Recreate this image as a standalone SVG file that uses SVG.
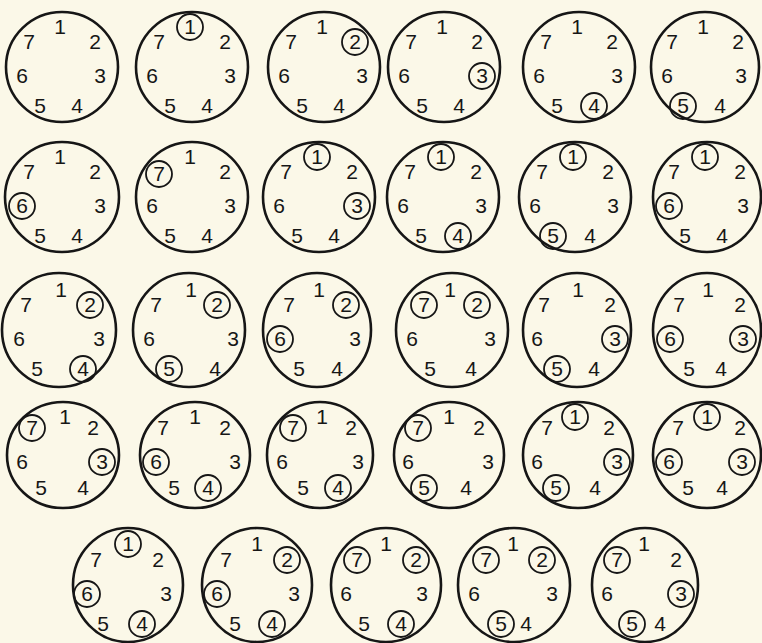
<svg xmlns="http://www.w3.org/2000/svg" width="762" height="643" viewBox="0 0 762 643">
<style>
.rim{fill:none;stroke:#161616;stroke-width:2.6}
.hl{fill:none;stroke:#161616;stroke-width:1.8}
text{font-family:"Liberation Sans","DejaVu Sans",sans-serif;font-size:21px;fill:#161616;text-anchor:middle}
</style>
<rect width="762" height="643" fill="#fbf8e8"/>
<g id="r1c1" transform="translate(62,67)"><ellipse class="rim" rx="56" ry="55"/><text x="-2" y="-33">1</text><text x="33" y="-18">2</text><text x="38" y="16">3</text><text x="15" y="46">4</text><text x="-22" y="46">5</text><text x="-40" y="16">6</text><text x="-33" y="-18">7</text></g>
<g id="r1c2" transform="translate(192,67)"><ellipse class="rim" rx="56" ry="55"/><text x="-2" y="-33">1</text><text x="33" y="-18">2</text><text x="38" y="16">3</text><text x="15" y="46">4</text><text x="-22" y="46">5</text><text x="-40" y="16">6</text><text x="-33" y="-18">7</text><circle class="hl" cx="-2" cy="-40" r="13"/></g>
<g id="r1c3" transform="translate(324,67)"><ellipse class="rim" rx="56" ry="55"/><text x="-2" y="-33">1</text><text x="31" y="-18">2</text><text x="38" y="16">3</text><text x="15" y="46">4</text><text x="-22" y="46">5</text><text x="-40" y="16">6</text><text x="-33" y="-18">7</text><circle class="hl" cx="31" cy="-25" r="13"/></g>
<g id="r1c4" transform="translate(444,67)"><ellipse class="rim" rx="56" ry="55"/><text x="-2" y="-33">1</text><text x="33" y="-18">2</text><text x="38" y="16">3</text><text x="15" y="46">4</text><text x="-22" y="46">5</text><text x="-40" y="16">6</text><text x="-33" y="-18">7</text><circle class="hl" cx="38" cy="9" r="13"/></g>
<g id="r1c5" transform="translate(579,67)"><ellipse class="rim" rx="56" ry="55"/><text x="-2" y="-33">1</text><text x="33" y="-18">2</text><text x="38" y="16">3</text><text x="15" y="46">4</text><text x="-22" y="46">5</text><text x="-40" y="16">6</text><text x="-33" y="-18">7</text><circle class="hl" cx="15" cy="39" r="13"/></g>
<g id="r1c6" transform="translate(705,67)"><ellipse class="rim" rx="54" ry="55"/><text x="-2" y="-33">1</text><text x="33" y="-18">2</text><text x="36" y="16">3</text><text x="15" y="46">4</text><text x="-22" y="46">5</text><text x="-38" y="16">6</text><text x="-33" y="-18">7</text><circle class="hl" cx="-22" cy="39" r="13"/></g>

<g id="r2c1" transform="translate(62,197)"><ellipse class="rim" rx="57" ry="55"/><text x="-2" y="-33">1</text><text x="33" y="-18">2</text><text x="38" y="16">3</text><text x="15" y="46">4</text><text x="-22" y="46">5</text><text x="-40" y="16">6</text><text x="-33" y="-18">7</text><circle class="hl" cx="-40" cy="9" r="13"/></g>
<g id="r2c2" transform="translate(192,197)"><ellipse class="rim" rx="56" ry="55"/><text x="-2" y="-33">1</text><text x="33" y="-18">2</text><text x="38" y="16">3</text><text x="15" y="46">4</text><text x="-22" y="46">5</text><text x="-40" y="16">6</text><text x="-33" y="-16">7</text><circle class="hl" cx="-33" cy="-23" r="13"/></g>
<g id="r2c3" transform="translate(319,197)"><ellipse class="rim" rx="56" ry="55"/><text x="-2" y="-33">1</text><text x="33" y="-18">2</text><text x="38" y="16">3</text><text x="15" y="46">4</text><text x="-22" y="46">5</text><text x="-40" y="16">6</text><text x="-33" y="-18">7</text><circle class="hl" cx="-2" cy="-40" r="13"/><circle class="hl" cx="38" cy="9" r="13"/></g>
<g id="r2c4" transform="translate(443,197)"><ellipse class="rim" rx="56" ry="55"/><text x="-2" y="-33">1</text><text x="33" y="-18">2</text><text x="38" y="16">3</text><text x="15" y="46">4</text><text x="-22" y="46">5</text><text x="-40" y="16">6</text><text x="-33" y="-18">7</text><circle class="hl" cx="-2" cy="-40" r="13"/><circle class="hl" cx="15" cy="39" r="13"/></g>
<g id="r2c5" transform="translate(575,197)"><ellipse class="rim" rx="56" ry="55"/><text x="-2" y="-33">1</text><text x="33" y="-18">2</text><text x="38" y="16">3</text><text x="15" y="46">4</text><text x="-22" y="46">5</text><text x="-40" y="16">6</text><text x="-33" y="-18">7</text><circle class="hl" cx="-2" cy="-40" r="13"/><circle class="hl" cx="-22" cy="39" r="13"/></g>
<g id="r2c6" transform="translate(707,197)"><ellipse class="rim" rx="54" ry="55"/><text x="-2" y="-33">1</text><text x="33" y="-18">2</text><text x="36" y="16">3</text><text x="15" y="46">4</text><text x="-22" y="46">5</text><text x="-38" y="16">6</text><text x="-33" y="-18">7</text><circle class="hl" cx="-2" cy="-40" r="13"/><circle class="hl" cx="-38" cy="9" r="13"/></g>

<g id="r3c1" transform="translate(59,330)"><ellipse class="rim" rx="57" ry="57"/><text x="2" y="-33">1</text><text x="31" y="-18">2</text><text x="40" y="16">3</text><text x="24" y="46">4</text><text x="-22" y="46">5</text><text x="-40" y="16">6</text><text x="-33" y="-18">7</text><circle class="hl" cx="31" cy="-25" r="13"/><circle class="hl" cx="24" cy="39" r="13"/></g>
<g id="r3c2" transform="translate(189,330)"><ellipse class="rim" rx="56" ry="57"/><text x="2" y="-33">1</text><text x="28" y="-18">2</text><text x="44" y="16">3</text><text x="26" y="46">4</text><text x="-20" y="46">5</text><text x="-40" y="16">6</text><text x="-33" y="-18">7</text><circle class="hl" cx="28" cy="-25" r="13"/><circle class="hl" cx="-20" cy="39" r="13"/></g>
<g id="r3c3" transform="translate(317,330)"><ellipse class="rim" rx="54" ry="57"/><text x="2" y="-33">1</text><text x="29" y="-18">2</text><text x="38" y="16">3</text><text x="20" y="46">4</text><text x="-18" y="46">5</text><text x="-37" y="16">6</text><text x="-28" y="-18">7</text><circle class="hl" cx="29" cy="-25" r="13"/><circle class="hl" cx="-37" cy="9" r="13"/></g>
<g id="r3c4" transform="translate(452,330)"><ellipse class="rim" rx="56" ry="57"/><text x="-2" y="-33">1</text><text x="25" y="-18">2</text><text x="38" y="16">3</text><text x="19" y="46">4</text><text x="-22" y="46">5</text><text x="-40" y="16">6</text><text x="-28" y="-18">7</text><circle class="hl" cx="25" cy="-25" r="13"/><circle class="hl" cx="-28" cy="-25" r="13"/></g>
<g id="r3c5" transform="translate(577,330)"><ellipse class="rim" rx="54" ry="57"/><text x="1" y="-33">1</text><text x="33" y="-18">2</text><text x="38" y="16">3</text><text x="17" y="46">4</text><text x="-20" y="46">5</text><text x="-40" y="16">6</text><text x="-33" y="-18">7</text><circle class="hl" cx="38" cy="9" r="13"/><circle class="hl" cx="-20" cy="39" r="13"/></g>
<g id="r3c6" transform="translate(707,330)"><ellipse class="rim" rx="54" ry="57"/><text x="1" y="-33">1</text><text x="33" y="-18">2</text><text x="36" y="16">3</text><text x="14" y="46">4</text><text x="-18" y="46">5</text><text x="-37" y="16">6</text><text x="-28" y="-18">7</text><circle class="hl" cx="36" cy="9" r="13"/><circle class="hl" cx="-37" cy="9" r="13"/></g>

<g id="r4c1" transform="translate(63,455)"><ellipse class="rim" rx="56" ry="53"/><text x="2" y="-31">1</text><text x="30" y="-20">2</text><text x="39" y="14">3</text><text x="20" y="40">4</text><text x="-22" y="40">5</text><text x="-41" y="14">6</text><text x="-31" y="-20">7</text><circle class="hl" cx="-31" cy="-27" r="13"/><circle class="hl" cx="39" cy="7" r="13"/></g>
<g id="r4c2" transform="translate(195,455)"><ellipse class="rim" rx="55" ry="53"/><text x="0" y="-31">1</text><text x="30" y="-20">2</text><text x="40" y="14">3</text><text x="13" y="40">4</text><text x="-21" y="40">5</text><text x="-39" y="14">6</text><text x="-32" y="-20">7</text><circle class="hl" cx="13" cy="33" r="13"/><circle class="hl" cx="-39" cy="7" r="13"/></g>
<g id="r4c3" transform="translate(320,455)"><ellipse class="rim" rx="53" ry="53"/><text x="2" y="-31">1</text><text x="31" y="-20">2</text><text x="38" y="14">3</text><text x="18" y="40">4</text><text x="-17" y="40">5</text><text x="-38" y="14">6</text><text x="-27" y="-20">7</text><circle class="hl" cx="-27" cy="-27" r="13"/><circle class="hl" cx="18" cy="33" r="13"/></g>
<g id="r4c4" transform="translate(449,455)"><ellipse class="rim" rx="55" ry="53"/><text x="0" y="-31">1</text><text x="30" y="-20">2</text><text x="39" y="14">3</text><text x="17" y="40">4</text><text x="-25" y="40">5</text><text x="-41" y="14">6</text><text x="-31" y="-20">7</text><circle class="hl" cx="-31" cy="-27" r="13"/><circle class="hl" cx="-25" cy="33" r="13"/></g>
<g id="r4c5" transform="translate(578,455)"><ellipse class="rim" rx="55" ry="53"/><text x="-3" y="-31">1</text><text x="31" y="-20">2</text><text x="39" y="14">3</text><text x="17" y="40">4</text><text x="-22" y="40">5</text><text x="-41" y="14">6</text><text x="-31" y="-20">7</text><circle class="hl" cx="-3" cy="-38" r="13"/><circle class="hl" cx="39" cy="7" r="13"/><circle class="hl" cx="-22" cy="33" r="13"/></g>
<g id="r4c6" transform="translate(707,455)"><ellipse class="rim" rx="54" ry="53"/><text x="0" y="-31">1</text><text x="33" y="-20">2</text><text x="35" y="14">3</text><text x="15" y="40">4</text><text x="-19" y="40">5</text><text x="-38" y="14">6</text><text x="-29" y="-20">7</text><circle class="hl" cx="0" cy="-38" r="13"/><circle class="hl" cx="35" cy="7" r="13"/><circle class="hl" cx="-38" cy="7" r="13"/></g>

<g id="r5c1" transform="translate(128,585)"><ellipse class="rim" rx="55" ry="57"/><text x="0" y="-34">1</text><text x="30" y="-18">2</text><text x="38" y="16">3</text><text x="14" y="46">4</text><text x="-25" y="46">5</text><text x="-41" y="16">6</text><text x="-32" y="-18">7</text><circle class="hl" cx="0" cy="-41" r="13"/><circle class="hl" cx="-41" cy="9" r="13"/><circle class="hl" cx="14" cy="39" r="13"/></g>
<g id="r5c2" transform="translate(257,585)"><ellipse class="rim" rx="55" ry="57"/><text x="0" y="-34">1</text><text x="30" y="-18">2</text><text x="37" y="16">3</text><text x="15" y="46">4</text><text x="-22" y="46">5</text><text x="-40" y="16">6</text><text x="-31" y="-18">7</text><circle class="hl" cx="30" cy="-25" r="13"/><circle class="hl" cx="-40" cy="9" r="13"/><circle class="hl" cx="15" cy="39" r="13"/></g>
<g id="r5c3" transform="translate(386,585)"><ellipse class="rim" rx="55" ry="57"/><text x="0" y="-34">1</text><text x="30" y="-18">2</text><text x="36" y="16">3</text><text x="15" y="46">4</text><text x="-22" y="46">5</text><text x="-40" y="16">6</text><text x="-29" y="-18">7</text><circle class="hl" cx="30" cy="-25" r="13"/><circle class="hl" cx="-29" cy="-25" r="13"/><circle class="hl" cx="15" cy="39" r="13"/></g>
<g id="r5c4" transform="translate(514,585)"><ellipse class="rim" rx="56" ry="57"/><text x="-1" y="-34">1</text><text x="28" y="-18">2</text><text x="38" y="16">3</text><text x="12" y="46">4</text><text x="-13" y="46">5</text><text x="-40" y="16">6</text><text x="-28" y="-18">7</text><circle class="hl" cx="28" cy="-25" r="13"/><circle class="hl" cx="-28" cy="-25" r="13"/><circle class="hl" cx="-13" cy="39" r="13"/></g>
<g id="r5c5" transform="translate(645,585)"><ellipse class="rim" rx="53" ry="57"/><text x="-1" y="-34">1</text><text x="31" y="-18">2</text><text x="36" y="16">3</text><text x="15" y="46">4</text><text x="-13" y="46">5</text><text x="-38" y="16">6</text><text x="-28" y="-18">7</text><circle class="hl" cx="36" cy="9" r="13"/><circle class="hl" cx="-28" cy="-25" r="13"/><circle class="hl" cx="-13" cy="39" r="13"/></g>
</svg>
